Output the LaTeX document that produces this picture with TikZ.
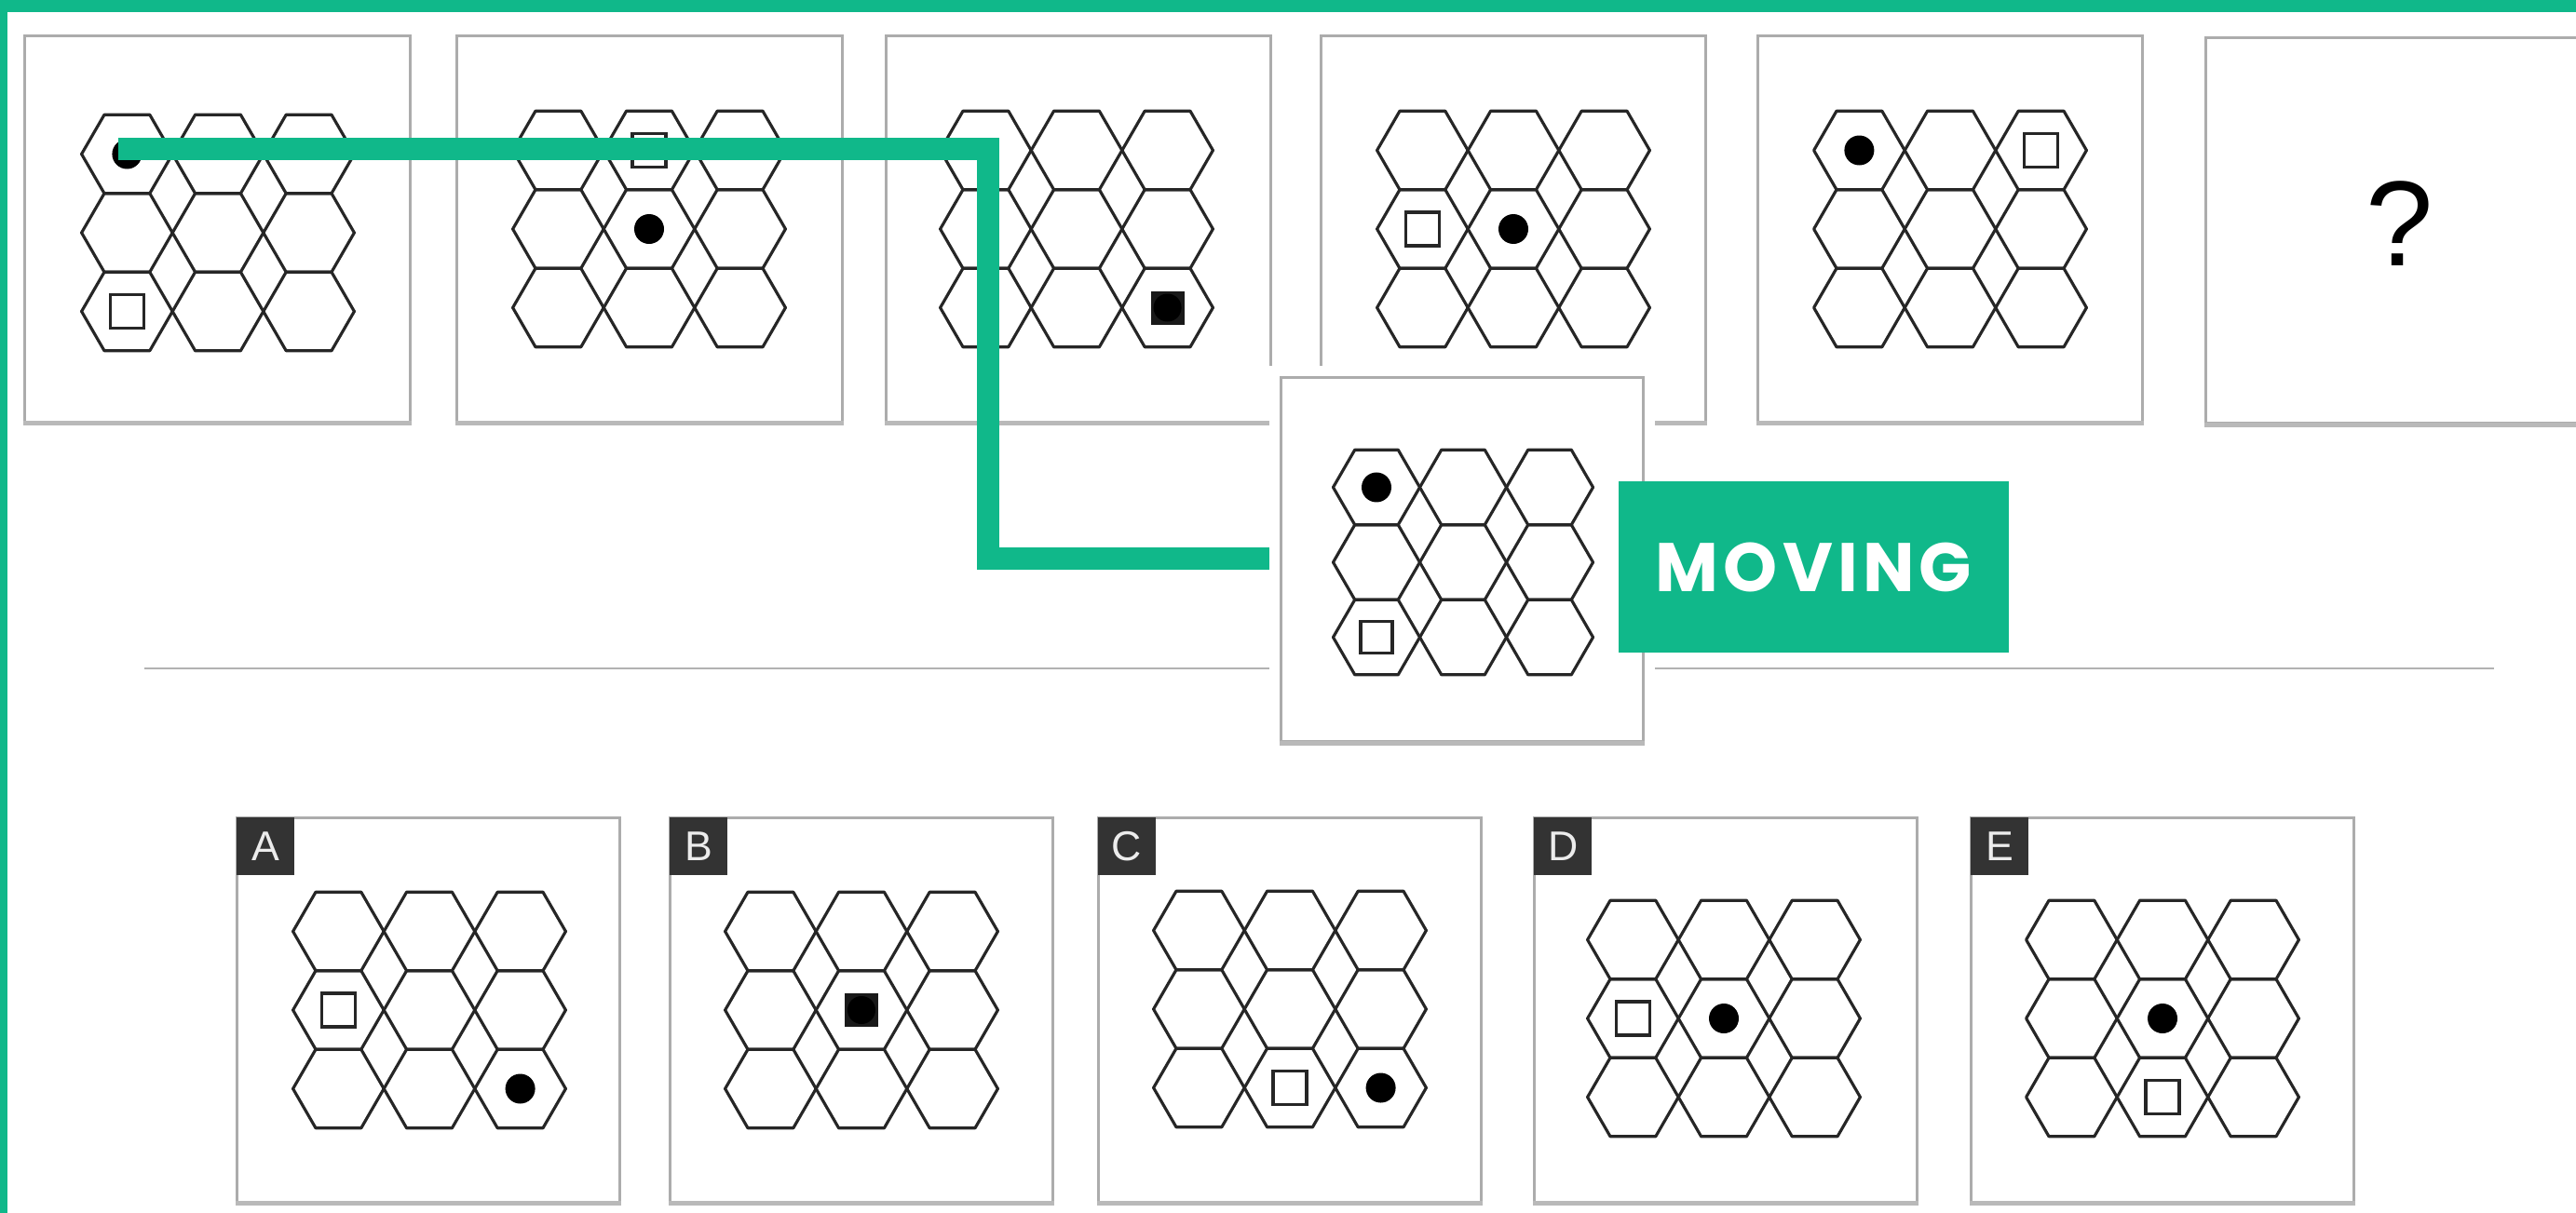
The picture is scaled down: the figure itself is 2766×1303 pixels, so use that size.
\documentclass[tikz,border=0pt]{standalone}
\usepackage{fontspec}
\setmainfont{Liberation Sans}
\newfontfamily\movefont{Poppins}[LetterSpace=7]
\usetikzlibrary{positioning,calc}
\definecolor{mygreen}{RGB}{16,184,138}
\begin{document}
\begin{tikzpicture}[x=0.01cm,y=-0.01cm,
	panel/.style={draw=gray!65,line width=0.85pt,fill=white,minimum width=4.13cm,minimum height=4.14cm,inner sep=0pt},
	lowpanel/.style={panel,minimum width=4.1cm,minimum height=4.12cm},
	halo/.style={preaction={draw=white,line width=7pt}},
	shade/.style={draw=gray!55,line width=1.4pt},
	hexline/.style={draw=black!85,line width=0.9pt,line join=round},
	sq/.style={draw=black!85,line width=0.95pt},
	tag/.style={fill=black!80,text=gray!15,minimum size=0.62cm,inner sep=0pt,anchor=north west,font=\fontsize{12.7}{14}\selectfont},
	connector/.style={draw=mygreen,line width=7.1pt,line join=miter},
	rule/.style={draw=gray!60,line width=0.7pt},
	movebox/.style={fill=mygreen,text=white,minimum width=4.19cm,minimum height=1.84cm,inner sep=0pt,font=\movefont\bfseries\fontsize{21}{24}\selectfont},
	hexgrid/.pic={
		\foreach \r in {1,2,3} \foreach \c in {1,2,3} {
			\coordinate (-\r\c) at ({(\c-2)*97.6},{(\r-2)*84.5});
			\draw[hexline] ({(\c-2)*97.6},{(\r-2)*84.5}) ++(48.8,0) -- ++(-24.4,-42.26) -- ++(-48.8,0) -- ++(-24.4,42.26) -- ++(24.4,42.26) -- ++(48.8,0) -- cycle;
		}
	}]
	\useasboundingbox (0,0) rectangle (2766,1303);
	\fill[white] (0,0) rectangle (2766,1303);
	\fill[mygreen] (0,0) rectangle (2766,13);
	\fill[mygreen] (0,0) rectangle (8,1303);
	\draw[rule] (155,718) -- (2678,718);
	% top row
	\foreach \n/\x in {b1/233.5,b2/697.5,b3/1158,b4/1625,b5/2094} \node[panel] (\n) at (\x,246) {};
	\node[panel,anchor=north west] (b6) at (2367,39) {};
	\node[font=\fontsize{37}{40}\selectfont] (qm) at (2577,240) {?};
	% answers
	\foreach \n/\x in {A/460,B/925,C/1385,D/1853,E/2322} {
		\node[lowpanel] (b\n) at (\x,1085) {};
		\node[tag] (t\n) at (b\n.north west) {\n};
	}
	\foreach \n in {b1,b2,b3,b4,b5,b6,bA,bB,bC,bD,bE} \draw[shade] (\n.south west) -- (\n.south east);
	\foreach \n/\x/\y in {p1/234/250,p2/697/246,p3/1156/246,p4/1625/246,p5/2094/246,ga/461/1085,gb/925/1085,gc/1385/1084,gd/1851/1094,ge/2322/1094}
		\pic (\n) at (\x,\y) {hexgrid};
	\foreach \c in {p1-11,p2-22,p4-22,p5-11,ga-33,gc-33,gd-22,ge-22} \fill (\c) circle (16);
	\foreach \c in {p1-31,p2-12,p4-21,p5-13,ga-21,gc-32,gd-21,ge-32} \draw[sq] (\c) +(-18,-18) rectangle +(18,18);
	\foreach \c in {p3-33,gb-22} {
		\fill[black!90] (\c) +(-18,-18) rectangle +(18,18);
		\fill (\c) circle (15);
	}
	% moving
	\coordinate (start) at (127,160);
	\coordinate (turn) at (1061,600);
	\coordinate (stop) at (1370,600);
	\draw[connector] (start) -| (turn) -- (stop);
	\node[panel,halo,minimum width=3.89cm,minimum height=3.91cm] (mv) at (1570,601) {};
	\draw[shade] (mv.south west) -- (mv.south east);
	\pic[scale=0.953] (gm) at (1571,604) {hexgrid};
	\fill (gm-11) circle (16);
	\draw[sq] (gm-31) +(-17,-17) rectangle +(17,17);
	\node[movebox] (moving) at (1947.5,609) {MOVING};
\end{tikzpicture}
\end{document}
